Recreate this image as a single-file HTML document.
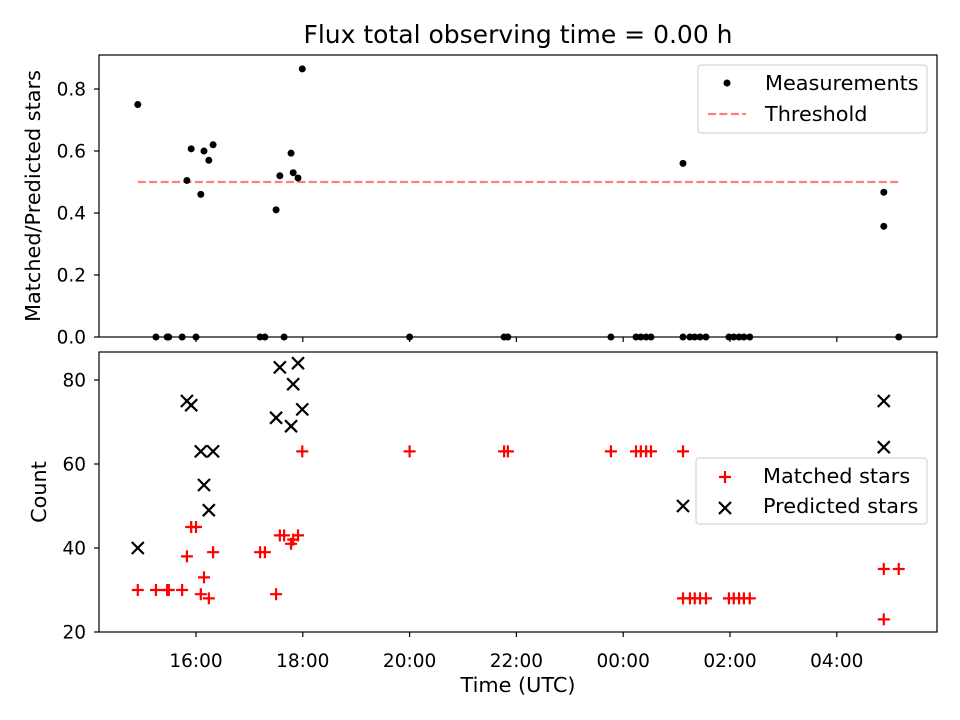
<!DOCTYPE html>
<html><head><meta charset="utf-8"><style>
body{margin:0;background:#fff;}
svg{display:block;font-family:"DejaVu Sans","Liberation Sans",sans-serif;}
</style></head><body>
<svg id="c" width="960" height="720" viewBox="0 0 960 720" xmlns="http://www.w3.org/2000/svg">
<rect width="960" height="720" fill="#fff"/>
<text x="518" y="43" font-size="25" text-anchor="middle">Flux total observing time = 0.00 h</text>
<g id="topPanel"></g>
<g id="botPanel"></g>
</svg>
<script>
const times=[14.91,15.25,15.46,15.49,15.74,15.83,15.91,16.0,16.09,16.15,16.24,16.32,17.2,17.29,17.5,17.57,17.65,17.78,17.82,17.91,17.99,20.0,21.77,21.84,23.77,24.24,24.33,24.43,24.52,25.12,25.12,25.25,25.34,25.44,25.55,25.98,26.07,26.17,26.26,26.37,28.88,28.88,29.16];
const matched=[30,30,30,30,30,38,45,45,29,33,28,39,39,39,29,43,43,41,42,43,63,63,63,63,63,63,63,63,63,63,28,28,28,28,28,28,28,28,28,28,35,23,35];
const predicted=[40,null,null,null,null,75,74,null,63,55,49,63,null,null,71,83,null,69,79,84,73,null,null,null,null,null,null,null,null,null,50,null,null,null,null,null,null,null,null,null,75,64,null];
const ratios=[0.75,0,0,0,0,0.505,0.607,0,0.46,0.6,0.57,0.62,0,0,0.41,0.52,0,0.593,0.53,0.513,0.865,0,0,0,0,0,0,0,0,0,0.56,0,0,0,0,0,0,0,0,0,0.467,0.357,0];
const threshold=0.5;
const xTickHours=[16,18,20,22,24,26,28];
const xTickLabels=["16:00","18:00","20:00","22:00","00:00","02:00","04:00"];
const topTicks=[0,0.2,0.4,0.6,0.8];
const botTicks=[20,40,60,80];

const X=h=>196+(h-16)*53.4;
const Yt=v=>337-v*310;
const Yb=v=>632-(v-20)*4.2;
const NS="http://www.w3.org/2000/svg";
const TF=18.5, LF=20.8;
function mk(p,tag,a,txt){const e=document.createElementNS(NS,tag);for(const k in a)e.setAttribute(k,a[k]);if(txt!==undefined)e.textContent=txt;p.appendChild(e);return e;}
const topG=document.getElementById('topPanel'),botG=document.getElementById('botPanel');

let f=mk(topG,'rect',{x:99,y:55,width:838,height:282,fill:'none',stroke:'#000','stroke-width':1.2});


f=mk(botG,'rect',{x:99,y:352,width:838,height:280,fill:'none',stroke:'#000','stroke-width':1.2});



xTickHours.forEach((h,i)=>{
  let t=mk(topG,'line',{x1:X(h),x2:X(h),y1:337,y2:342,stroke:'#000','stroke-width':1.2});
  
  
  t=mk(botG,'line',{x1:X(h),x2:X(h),y1:632,y2:637,stroke:'#000','stroke-width':1.2});
  
  
  t=mk(botG,'text',{x:X(h),y:667,'font-size':TF,'text-anchor':'middle'},xTickLabels[i]);
  
  
});
topTicks.forEach(v=>{
  let t=mk(topG,'line',{x1:94,x2:99,y1:Yt(v),y2:Yt(v),stroke:'#000','stroke-width':1.2});
  
  
  t=mk(topG,'text',{x:86,y:Yt(v)+6.5,'font-size':TF,'text-anchor':'end'},v.toFixed(1));
  
  
});
botTicks.forEach(v=>{
  let t=mk(botG,'line',{x1:94,x2:99,y1:Yb(v),y2:Yb(v),stroke:'#000','stroke-width':1.2});
  
  
  t=mk(botG,'text',{x:86,y:Yb(v)+6.5,'font-size':TF,'text-anchor':'end'},String(v));
  
  
});
let lab=mk(topG,'text',{x:0,y:0,'font-size':LF,'text-anchor':'middle',transform:'translate(40,196) rotate(-90)'},'Matched/Predicted stars');


lab=mk(botG,'text',{x:0,y:0,'font-size':LF,'text-anchor':'middle',transform:'translate(46,492) rotate(-90)'},'Count');


lab=mk(botG,'text',{x:518,y:692,'font-size':LF,'text-anchor':'middle'},'Time (UTC)');



const tmin=Math.min(...times),tmax=Math.max(...times);
let th=mk(topG,'line',{x1:X(tmin),x2:X(tmax),y1:Yt(threshold),y2:Yt(threshold),stroke:'#ff7f7f','stroke-width':2.2,'stroke-dasharray':'8,3.4'});



times.forEach((h,i)=>{
  const d=mk(topG,'circle',{cx:X(h),cy:Yt(ratios[i]),r:3.5,fill:'#000'});
  
  
});
times.forEach((h,i)=>{
  const x=X(h),y=Yb(matched[i]);
  const g=mk(botG,'path',{d:`M${x-6},${y}H${x+6}M${x},${y-6}V${y+6}`,stroke:'#f00','stroke-width':2.2});
  
  
});
times.forEach((h,i)=>{
  if(predicted[i]===null)return;
  const x=X(h),y=Yb(predicted[i]);
  const g=mk(botG,'path',{d:`M${x-6},${y-6}L${x+6},${y+6}M${x-6},${y+6}L${x+6},${y-6}`,stroke:'#000','stroke-width':2.2});
  
  
});

let lg=mk(topG,'g',{});


mk(lg,'rect',{x:698,y:65,width:229,height:68,rx:3,fill:'#fff','fill-opacity':0.8,stroke:'#ccc'});
mk(lg,'circle',{cx:727,cy:83,r:3.5,fill:'#000'});
mk(lg,'text',{x:765,y:90,'font-size':LF},'Measurements');
mk(lg,'line',{x1:708,x2:746,y1:114,y2:114,stroke:'#ff7f7f','stroke-width':2.2,'stroke-dasharray':'8,3.4'});
mk(lg,'text',{x:765,y:121,'font-size':LF},'Threshold');

lg=mk(botG,'g',{});


mk(lg,'rect',{x:696,y:458,width:231,height:66,rx:3,fill:'#fff','fill-opacity':0.8,stroke:'#ccc'});
mk(lg,'path',{d:'M719,477H731M725,471V483',stroke:'#f00','stroke-width':2.2});
mk(lg,'text',{x:763,y:483,'font-size':LF},'Matched stars');
mk(lg,'path',{d:'M719,502L731,514M719,514L731,502',stroke:'#000','stroke-width':2.2});
mk(lg,'text',{x:763,y:513,'font-size':LF},'Predicted stars');
</script>
</body></html>
